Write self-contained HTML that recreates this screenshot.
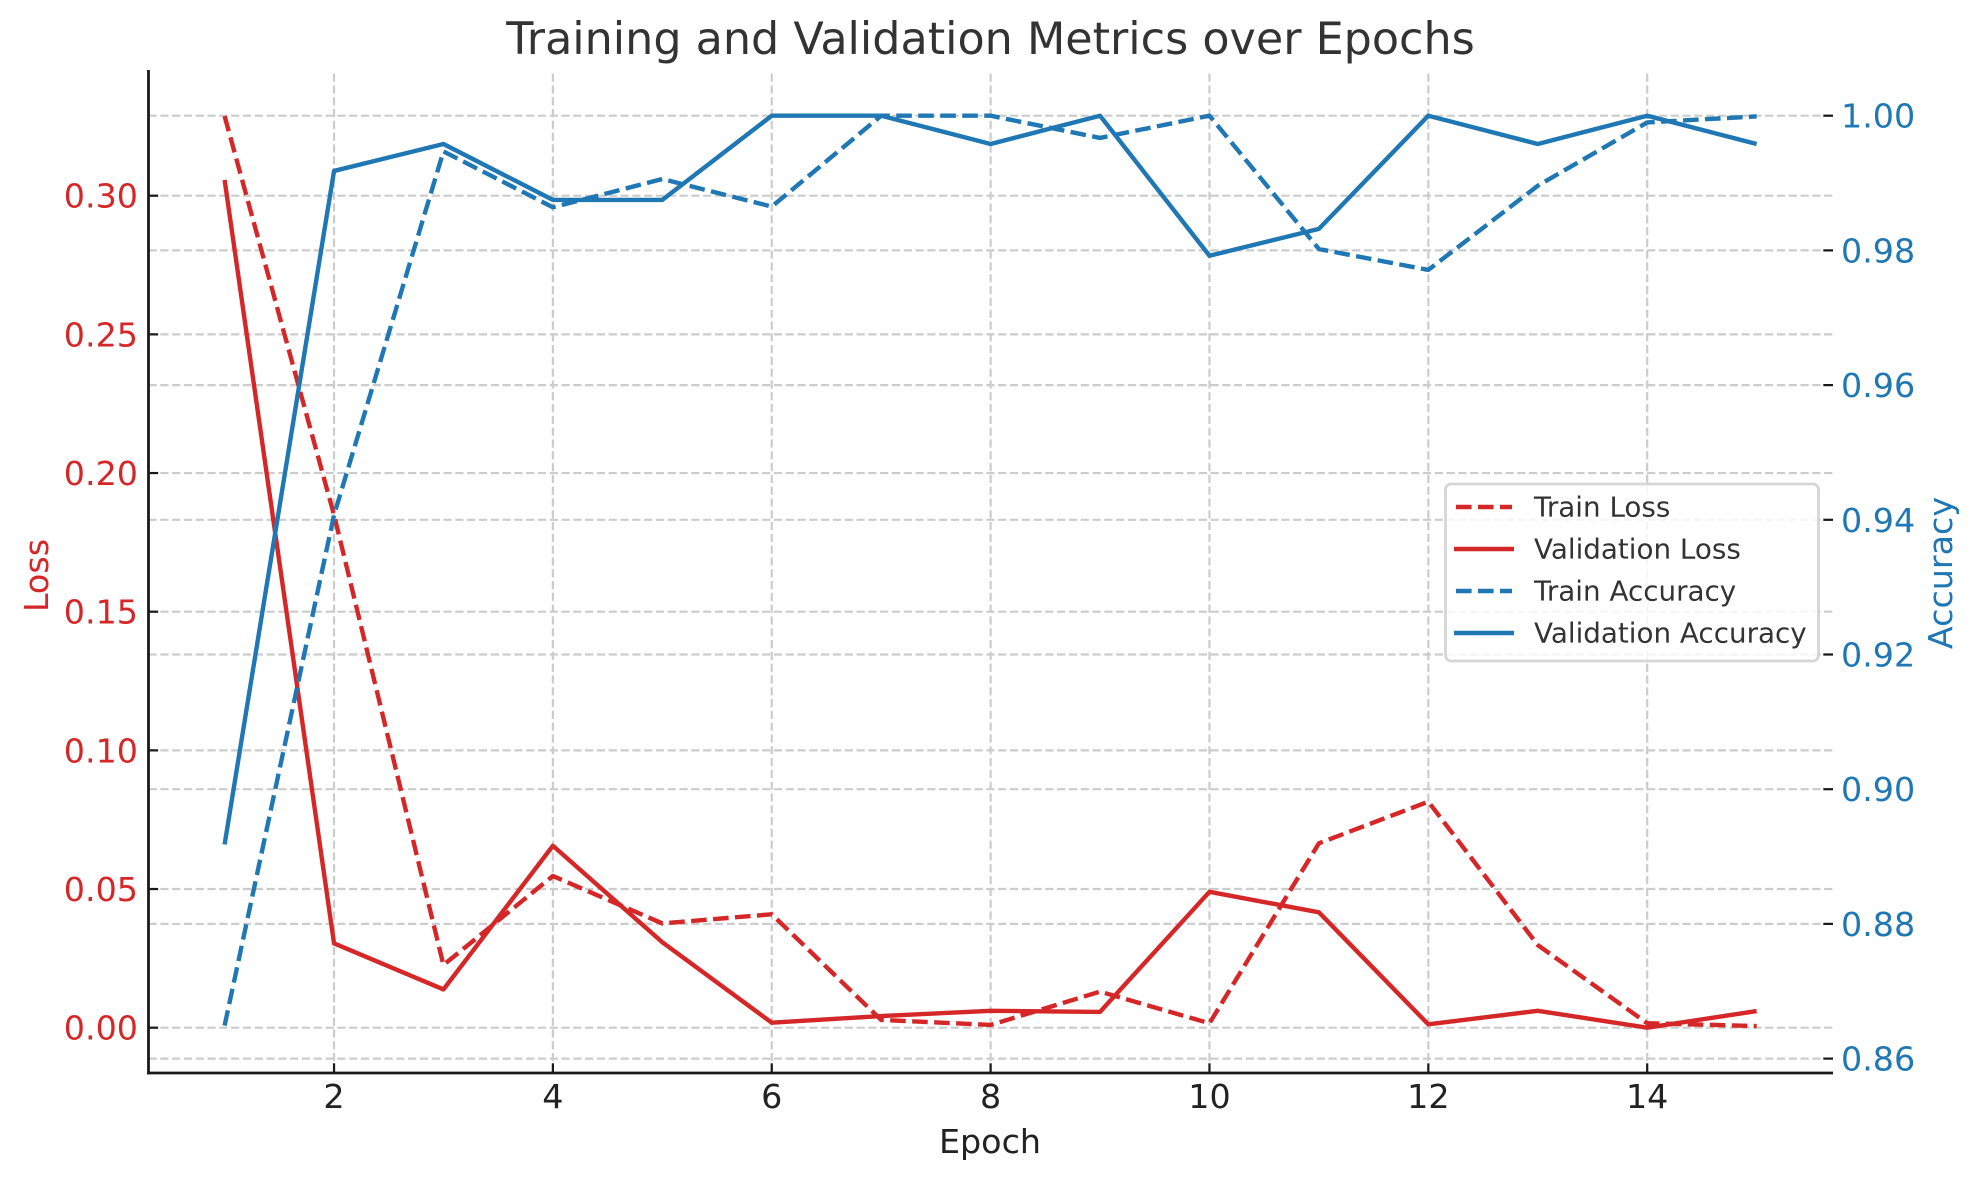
<!DOCTYPE html>
<html lang="en">
<head>
<meta charset="utf-8">
<title>Training and Validation Metrics over Epochs</title>
<style>
html,body{margin:0;padding:0;background:#fff;width:1980px;height:1180px;overflow:hidden}
svg{display:block}
text{font-family:"DejaVu Sans","Liberation Sans",sans-serif}
</style>
</head>
<body>
<svg id="chart" xmlns="http://www.w3.org/2000/svg" width="1980" height="1180" viewBox="0 0 1980 1180">
  <rect x="0" y="0" width="1980" height="1180" fill="#ffffff"/>
  <g id="grid"></g>
  <g id="series"></g>
  <g id="axes">
    <line x1="148.5" y1="70" x2="148.5" y2="1074.4" stroke="#1a1a1a" stroke-width="2.8"/>
    <line x1="147.1" y1="1073" x2="1833" y2="1073" stroke="#1a1a1a" stroke-width="2.8"/>
  </g>
  <text x="990.5" y="54" text-anchor="middle" font-size="44.44" fill="#333333">Training and Validation Metrics over Epochs</text>
  <text x="990" y="1153" text-anchor="middle" font-size="33.33" fill="#222222">Epoch</text>
  <text transform="translate(48 575.5) rotate(-90)" text-anchor="middle" font-size="33.33" fill="#d62728">Loss</text>
  <text transform="translate(1952 573) rotate(-90)" text-anchor="middle" font-size="33.33" fill="#1f77b4">Accuracy</text>
  <g id="legend">
    <rect x="1445.5" y="484" width="373" height="177" rx="5.6" ry="5.6" fill="#ffffff" fill-opacity="0.8" stroke="#cccccc" stroke-opacity="0.8" stroke-width="2.8"/>
    <line x1="1456" y1="507" x2="1512" y2="507" stroke="#d62728" stroke-width="4.4" stroke-dasharray="15.6 6.4"/>
    <text x="1534" y="516.7" font-size="27.78" fill="#333333">Train Loss</text>
    <line x1="1454" y1="549" x2="1514" y2="549" stroke="#d62728" stroke-width="4.4"/>
    <text x="1534" y="558.5" font-size="27.78" fill="#333333">Validation Loss</text>
    <line x1="1456" y1="591" x2="1512" y2="591" stroke="#1f77b4" stroke-width="4.4" stroke-dasharray="15.6 6.4"/>
    <text x="1534" y="600.7" font-size="27.78" fill="#333333">Train Accuracy</text>
    <line x1="1454" y1="633" x2="1514" y2="633" stroke="#1f77b4" stroke-width="4.4"/>
    <text x="1534" y="642.7" font-size="27.78" fill="#333333">Validation Accuracy</text>
  </g>
</svg>
<script>
const epochs = [1, 2, 3, 4, 5, 6, 7, 8, 9, 10, 11, 12, 13, 14, 15];
const trainLoss = [0.3287, 0.1849, 0.0226, 0.0547, 0.0376, 0.0409, 0.0028, 0.0010, 0.0130, 0.0016, 0.0665, 0.0815, 0.0298, 0.0016, 0.0006];
const validationLoss = [0.3057, 0.0304, 0.0138, 0.0656, 0.0308, 0.0018, 0.0042, 0.0061, 0.0057, 0.0490, 0.0416, 0.0012, 0.0061, 0.0000, 0.0060];
const trainAccuracy = [0.8649, 0.9407, 0.9947, 0.9864, 0.9906, 0.9865, 1.0000, 1.0000, 0.9967, 1.0000, 0.9802, 0.9771, 0.9896, 0.9990, 0.9999];
const validationAccuracy = [0.8918, 0.9918, 0.9958, 0.9875, 0.9875, 1.0000, 1.0000, 0.9958, 1.0000, 0.9792, 0.9832, 1.0000, 0.9958, 1.0000, 0.9958];
const xTicks = [2, 4, 6, 8, 10, 12, 14];
const lossTicks = ["0.00", "0.05", "0.10", "0.15", "0.20", "0.25", "0.30"];
const accuracyTicks = ["0.86", "0.88", "0.90", "0.92", "0.94", "0.96", "0.98", "1.00"];

const SVG_NS = "http://www.w3.org/2000/svg";
const plotLeft = 148.5, plotRight = 1833, plotTop = 70, plotBottom = 1073;

function xScale(epoch) { return 224.6 + (epoch - 1) * 109.43; }
function lossScale(value) { return 1027.7 - value * 2773.3; }
function accuracyScale(value) { return 115.7 + (1 - value) * 6735; }

const gridLayer = document.getElementById("grid");
const seriesLayer = document.getElementById("series");
const axesLayer = document.getElementById("axes");

function makeLine(parent, x1, y1, x2, y2, stroke, width, dash) {
  const el = document.createElementNS(SVG_NS, "line");
  el.setAttribute("x1", x1);
  el.setAttribute("y1", y1);
  el.setAttribute("x2", x2);
  el.setAttribute("y2", y2);
  el.setAttribute("stroke", stroke);
  el.setAttribute("stroke-width", width);
  if (dash) el.setAttribute("stroke-dasharray", dash);
  parent.appendChild(el);
  return el;
}

function makeText(parent, x, y, label, anchor, fill) {
  const el = document.createElementNS(SVG_NS, "text");
  el.setAttribute("x", x);
  el.setAttribute("y", y);
  el.setAttribute("text-anchor", anchor);
  el.setAttribute("font-size", "33.33");
  el.setAttribute("fill", fill);
  el.textContent = label;
  parent.appendChild(el);
  return el;
}

const GRID_COLOR = "#cccccc", GRID_WIDTH = 2.2, GRID_DASH = "8.2 3.6";

xTicks.forEach(function (tick) {
  const x = xScale(tick);
  const gridLine = makeLine(gridLayer, x, plotBottom, x, plotTop, GRID_COLOR, GRID_WIDTH, GRID_DASH);
  
  
  const tickMark = makeLine(axesLayer, x, plotBottom, x, plotBottom - 9.7, "#1a1a1a", 2.2);
  
  
  const tickLabel = makeText(axesLayer, x, 1108, String(tick), "middle", "#222222");
  
  
});

lossTicks.forEach(function (tick) {
  const y = lossScale(Number(tick));
  const gridLine = makeLine(gridLayer, plotLeft, y, plotRight, y, GRID_COLOR, GRID_WIDTH, GRID_DASH);
  
  
  const tickMark = makeLine(axesLayer, plotLeft, y, plotLeft + 9.7, y, "#1a1a1a", 2.2);
  
  
  const tickLabel = makeText(axesLayer, 138, y + 12, tick, "end", "#d62728");
  
  
});

accuracyTicks.forEach(function (tick) {
  const y = accuracyScale(Number(tick));
  const gridLine = makeLine(gridLayer, plotLeft, y, plotRight, y, GRID_COLOR, GRID_WIDTH, GRID_DASH);
  
  
  const tickMark = makeLine(axesLayer, plotRight, y, plotRight - 9.7, y, "#1a1a1a", 2.2);
  
  
  const tickLabel = makeText(axesLayer, 1841, y + 12, tick, "start", "#1f77b4");
  
  
});

function drawSeries(values, yScale, stroke, width, dash) {
  const el = document.createElementNS(SVG_NS, "polyline");
  const points = values.map(function (value, i) {
    return xScale(epochs[i]).toFixed(2) + "," + yScale(value).toFixed(2);
  });
  el.setAttribute("points", points.join(" "));
  el.setAttribute("fill", "none");
  el.setAttribute("stroke", stroke);
  el.setAttribute("stroke-width", width);
  el.setAttribute("stroke-linejoin", "round");
  if (dash) el.setAttribute("stroke-dasharray", dash);
  seriesLayer.appendChild(el);
  return el;
}

const trainLossLine = drawSeries(trainLoss, lossScale, "#d62728", 4.4, "15.6 6.4");


const validationLossLine = drawSeries(validationLoss, lossScale, "#d62728", 4.4);


const trainAccuracyLine = drawSeries(trainAccuracy, accuracyScale, "#1f77b4", 4.4, "15.6 6.4");


const validationAccuracyLine = drawSeries(validationAccuracy, accuracyScale, "#1f77b4", 4.4);


</script>
</body>
</html>
